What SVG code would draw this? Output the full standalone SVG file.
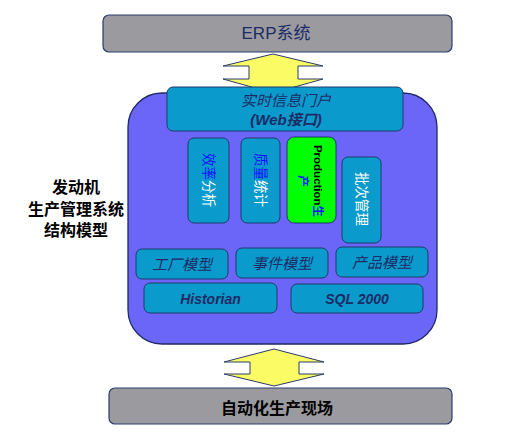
<svg xmlns="http://www.w3.org/2000/svg" width="514" height="440" viewBox="0 0 514 440">
<style>
.gray{fill:#9b9a9f;stroke:#2b3d6b;stroke-width:1.2}
.teal{fill:#0a9acb;stroke:#1e3a6a;stroke-width:1}
.arrow{fill:#fbfb66;stroke:#2b3d6b;stroke-width:1}
.cn{font-family:"Liberation Sans","Noto Sans CJK SC",sans-serif}
.navy{fill:#1b2b66}
.it{font-style:italic}
.b{font-weight:bold}
</style>
<rect width="514" height="440" fill="#ffffff"/>
<g id="erp">
<rect class="gray" x="103" y="15" width="349" height="37" rx="6"/>
<text class="cn navy" x="276" y="39" font-size="17" text-anchor="middle">ERP系统</text>
</g>
<g id="connectors">
<path class="arrow" d="M273,54 L323,66 L298,66 L298,79 L323,79 L273,93 L223,79 L249,79 L249,66 L223,66 Z"/>
<path class="arrow" d="M274,349 L324,362 L299,362 L299,374 L324,374 L274,386 L224,374 L250,374 L250,362 L224,362 Z"/>
</g>
<g id="system">
<rect x="128" y="93" width="309" height="251" rx="34" fill="#6b66f7" stroke="#1e2a66" stroke-width="1.3"/>
</g>
<g id="portal">
<rect class="teal" x="167" y="87" width="236" height="44" rx="6"/>
<text class="cn navy it" x="286" y="106" font-size="15" text-anchor="middle">实时信息门户</text>
<text class="cn navy it b" x="286" y="125" font-size="15" text-anchor="middle">(Web接口)</text>
</g>
<g id="xiaolv">
<rect class="teal" x="188" y="138" width="41" height="85" rx="6"/>
<text class="cn" transform="translate(208.5,180) rotate(90)" font-size="13.5" text-anchor="middle" dominant-baseline="central"><tspan fill="#1010ff">效率</tspan><tspan fill="#ffffff">分析</tspan></text>
</g>
<g id="zhiliang">
<rect class="teal" x="241" y="138" width="39" height="85" rx="6"/>
<text class="cn" transform="translate(260.5,180) rotate(90)" font-size="13.5" text-anchor="middle" dominant-baseline="central"><tspan fill="#1010ff">质量</tspan><tspan fill="#ffffff">统计</tspan></text>
</g>
<g id="production">
<rect x="287" y="137" width="49" height="86" rx="7" fill="#00ff00" stroke="#1e3a6a" stroke-width="1"/>
<text class="cn b" transform="translate(318,181) rotate(90)" font-size="11.5" text-anchor="middle" dominant-baseline="central"><tspan fill="#000000">Production</tspan><tspan fill="#1010ff">生</tspan></text>
<text class="cn b" transform="translate(303,181) rotate(90)" font-size="11.5" text-anchor="middle" dominant-baseline="central" fill="#1010ff">产</text>
</g>
<g id="pici">
<rect class="teal" x="342" y="157" width="39" height="86" rx="6"/>
<text class="cn" transform="translate(361.5,199) rotate(90)" font-size="13.5" text-anchor="middle" dominant-baseline="central" fill="#ffffff">批次管理</text>
</g>
<g id="gongchang">
<rect class="teal" x="136" y="249" width="92" height="30" rx="6"/>
<text class="cn navy it" x="182" y="270" font-size="15" text-anchor="middle">工厂模型</text>
</g>
<g id="shijian">
<rect class="teal" x="236" y="248" width="92" height="30" rx="6"/>
<text class="cn navy it" x="282" y="269" font-size="15" text-anchor="middle">事件模型</text>
</g>
<g id="chanpin">
<rect class="teal" x="336" y="247" width="92" height="30" rx="6"/>
<text class="cn navy it" x="382" y="268" font-size="15" text-anchor="middle">产品模型</text>
</g>
<g id="historian">
<rect class="teal" x="144" y="283" width="133" height="30" rx="6"/>
<text class="cn navy it b" x="210.5" y="304" font-size="14" text-anchor="middle">Historian</text>
</g>
<g id="sql">
<rect class="teal" x="291" y="284" width="132" height="29" rx="6"/>
<text class="cn navy it b" x="357" y="304" font-size="14" text-anchor="middle">SQL 2000</text>
</g>
<g id="field">
<rect class="gray" x="109" y="388" width="343" height="36" rx="6"/>
<text class="cn b" x="277" y="414" font-size="16" text-anchor="middle" fill="#000000">自动化生产现场</text>
</g>
<g id="title">
<text class="cn b" x="76" y="193" font-size="16" text-anchor="middle" fill="#000000">发动机</text>
<text class="cn b" x="76" y="215" font-size="16" text-anchor="middle" fill="#000000">生产管理系统</text>
<text class="cn b" x="76" y="236" font-size="16" text-anchor="middle" fill="#000000">结构模型</text>
</g>
</svg>
